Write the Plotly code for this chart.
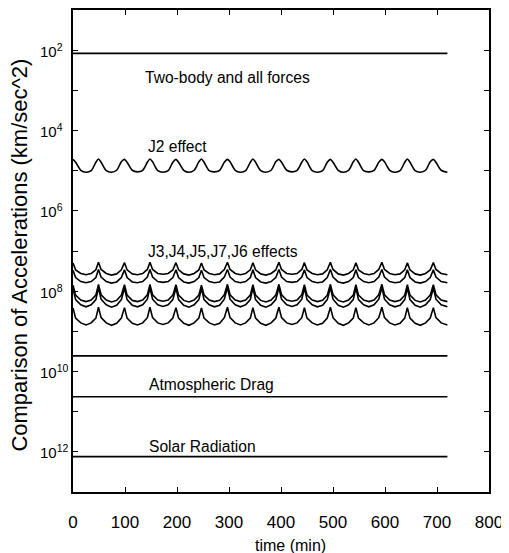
import numpy as np
import plotly.graph_objects as go

# ---------------- data (log10 of acceleration, km/sec^2) ----------------
time_min = [0, 5, 15, 25, 35, 44,
            49, 54, 64, 74, 84, 93,
            99, 104, 114, 124, 134, 143,
            148, 153, 163, 173, 183, 192,
            198, 203, 213, 223, 233, 242,
            247, 252, 262, 272, 282, 291,
            297, 302, 312, 322, 332, 341,
            346, 351, 361, 371, 381, 390,
            396, 401, 411, 421, 431, 440,
            445, 450, 460, 470, 480, 489,
            495, 500, 510, 520, 530, 539,
            544, 549, 559, 569, 579, 588,
            594, 599, 609, 619, 629, 638,
            643, 648, 658, 668, 678, 687,
            693, 698, 708, 720]

j2_log = [-4.72, -4.79, -4.99, -5.04, -5.00, -4.79,
          -4.71, -4.79, -5.00, -5.04, -4.99, -4.78,
          -4.72, -4.79, -4.99, -5.03, -4.99, -4.79,
          -4.71, -4.78, -5.00, -5.04, -5.00, -4.79,
          -4.72, -4.79, -4.99, -5.04, -4.99, -4.78,
          -4.71, -4.79, -5.00, -5.03, -4.99, -4.79,
          -4.72, -4.78, -4.99, -5.04, -5.00, -4.79,
          -4.71, -4.79, -5.00, -5.04, -4.99, -4.78,
          -4.72, -4.79, -4.99, -5.03, -4.99, -4.79,
          -4.71, -4.78, -5.00, -5.04, -5.00, -4.79,
          -4.72, -4.79, -4.99, -5.04, -4.99, -4.78,
          -4.71, -4.79, -5.00, -5.03, -4.99, -4.79,
          -4.72, -4.78, -4.99, -5.04, -5.00, -4.79,
          -4.71, -4.79, -5.00, -5.04, -4.99, -4.78,
          -4.72, -4.79, -4.99, -5.04]

j_a_log = [-7.30, -7.47, -7.56, -7.59, -7.56, -7.47,
           -7.28, -7.46, -7.56, -7.60, -7.57, -7.47,
           -7.29, -7.47, -7.57, -7.59, -7.56, -7.46,
           -7.28, -7.46, -7.56, -7.58, -7.56, -7.47,
           -7.29, -7.47, -7.57, -7.60, -7.56, -7.47,
           -7.30, -7.47, -7.56, -7.59, -7.57, -7.46,
           -7.28, -7.46, -7.56, -7.59, -7.56, -7.47,
           -7.29, -7.47, -7.57, -7.60, -7.56, -7.47,
           -7.28, -7.46, -7.56, -7.58, -7.56, -7.46,
           -7.29, -7.47, -7.56, -7.59, -7.57, -7.47,
           -7.28, -7.46, -7.57, -7.60, -7.56, -7.47,
           -7.29, -7.47, -7.56, -7.59, -7.56, -7.46,
           -7.28, -7.46, -7.56, -7.59, -7.57, -7.47,
           -7.29, -7.47, -7.57, -7.60, -7.56, -7.47,
           -7.29, -7.46, -7.56, -7.59]

j_b_log = [-7.48, -7.66, -7.76, -7.79, -7.76, -7.66,
           -7.46, -7.65, -7.76, -7.80, -7.77, -7.66,
           -7.47, -7.66, -7.77, -7.79, -7.76, -7.65,
           -7.46, -7.65, -7.76, -7.78, -7.76, -7.66,
           -7.47, -7.66, -7.77, -7.80, -7.76, -7.66,
           -7.48, -7.66, -7.76, -7.79, -7.77, -7.65,
           -7.46, -7.65, -7.76, -7.79, -7.76, -7.66,
           -7.47, -7.66, -7.77, -7.80, -7.76, -7.66,
           -7.46, -7.65, -7.76, -7.78, -7.76, -7.65,
           -7.47, -7.66, -7.76, -7.79, -7.77, -7.66,
           -7.46, -7.65, -7.77, -7.80, -7.76, -7.66,
           -7.47, -7.66, -7.76, -7.79, -7.76, -7.65,
           -7.46, -7.65, -7.76, -7.79, -7.77, -7.66,
           -7.47, -7.66, -7.77, -7.80, -7.76, -7.66,
           -7.47, -7.65, -7.76, -7.79]

j_c_log = [-7.85, -8.10, -8.22, -8.26, -8.22, -8.10,
           -7.83, -8.09, -8.22, -8.27, -8.23, -8.10,
           -7.84, -8.10, -8.23, -8.26, -8.22, -8.09,
           -7.83, -8.09, -8.22, -8.25, -8.22, -8.10,
           -7.84, -8.10, -8.23, -8.27, -8.22, -8.10,
           -7.85, -8.10, -8.22, -8.26, -8.23, -8.09,
           -7.83, -8.09, -8.22, -8.26, -8.22, -8.10,
           -7.84, -8.10, -8.23, -8.27, -8.22, -8.10,
           -7.83, -8.09, -8.22, -8.25, -8.22, -8.09,
           -7.84, -8.10, -8.22, -8.26, -8.23, -8.10,
           -7.83, -8.09, -8.23, -8.27, -8.22, -8.10,
           -7.84, -8.10, -8.22, -8.26, -8.22, -8.09,
           -7.83, -8.09, -8.22, -8.26, -8.23, -8.10,
           -7.84, -8.10, -8.23, -8.27, -8.22, -8.10,
           -7.84, -8.09, -8.22, -8.26]

j_d_log = [-7.93, -8.21, -8.34, -8.39, -8.34, -8.21,
           -7.91, -8.20, -8.34, -8.40, -8.35, -8.21,
           -7.92, -8.21, -8.35, -8.39, -8.34, -8.20,
           -7.91, -8.20, -8.34, -8.38, -8.34, -8.21,
           -7.92, -8.21, -8.35, -8.40, -8.34, -8.21,
           -7.93, -8.21, -8.34, -8.39, -8.35, -8.20,
           -7.91, -8.20, -8.34, -8.39, -8.34, -8.21,
           -7.92, -8.21, -8.35, -8.40, -8.34, -8.21,
           -7.91, -8.20, -8.34, -8.38, -8.34, -8.20,
           -7.92, -8.21, -8.34, -8.39, -8.35, -8.21,
           -7.91, -8.20, -8.35, -8.40, -8.34, -8.21,
           -7.92, -8.21, -8.34, -8.39, -8.34, -8.20,
           -7.91, -8.20, -8.34, -8.39, -8.35, -8.21,
           -7.92, -8.21, -8.35, -8.40, -8.34, -8.21,
           -7.92, -8.20, -8.34, -8.39]

j_e_log = [-8.42, -8.67, -8.79, -8.84, -8.79, -8.67,
           -8.40, -8.66, -8.79, -8.85, -8.80, -8.67,
           -8.41, -8.67, -8.80, -8.84, -8.79, -8.66,
           -8.40, -8.66, -8.79, -8.83, -8.79, -8.67,
           -8.41, -8.67, -8.80, -8.85, -8.79, -8.67,
           -8.42, -8.67, -8.79, -8.84, -8.80, -8.66,
           -8.40, -8.66, -8.79, -8.84, -8.79, -8.67,
           -8.41, -8.67, -8.80, -8.85, -8.79, -8.67,
           -8.40, -8.66, -8.79, -8.83, -8.79, -8.66,
           -8.41, -8.67, -8.79, -8.84, -8.80, -8.67,
           -8.40, -8.66, -8.80, -8.85, -8.79, -8.67,
           -8.41, -8.67, -8.79, -8.84, -8.79, -8.66,
           -8.40, -8.66, -8.79, -8.84, -8.80, -8.67,
           -8.41, -8.67, -8.80, -8.85, -8.79, -8.67,
           -8.41, -8.66, -8.79, -8.84]

flat_time = [0, 720]
two_body_log = [-2.08, -2.08]
other_log = [-9.61, -9.61]
drag_log = [-10.63, -10.63]
solar_log = [-12.12, -12.12]

y_major_exp = [-2, -4, -6, -8, -10, -12]
y_major_text = ["10<sup>2</sup>", "10<sup>4</sup>", "10<sup>6</sup>",
                "10<sup>8</sup>", "10<sup>10</sup>", "10<sup>12</sup>"]
y_minor_exp = [-3, -5, -7, -9, -11]
x_ticks = [0, 100, 200, 300, 400, 500, 600, 700, 800]

labels = [("Two-body and all forces", 135, -2.67),
          ("J2 effect", 141, -4.41),
          ("J3,J4,J5,J7,J6 effects", 141, -7.02),
          ("Atmospheric Drag", 143, -10.33),
          ("Solar Radiation", 143, -11.87)]

# ---------------- figure ----------------
FONT = "Liberation Sans, Arial"
fig = go.Figure()

line = dict(color="black", width=1.6)
for ys in [two_body_log, other_log, drag_log, solar_log]:
    fig.add_trace(go.Scatter(x=flat_time, y=10 ** np.array(ys), mode="lines",
                             line=line, showlegend=False, hoverinfo="skip"))

fig.add_trace(go.Scatter(x=time_min, y=10 ** np.array(j2_log), mode="lines",
                         line=dict(color="black", width=1.6, shape="spline", smoothing=0.8),
                         showlegend=False))
for ys in [j_a_log, j_b_log, j_c_log, j_d_log, j_e_log]:
    fig.add_trace(go.Scatter(x=time_min, y=10 ** np.array(ys), mode="lines",
                             line=line, showlegend=False))

for text, x, y in labels:
    fig.add_annotation(text=text, x=x, y=y, xref="x", yref="y", xanchor="left",
                       yanchor="middle", showarrow=False,
                       font=dict(family=FONT, size=15.6, color="black"))

# y tick labels, left-aligned as in the reference (base "10" in a fixed column)
for e, txt in zip(y_major_exp, y_major_text):
    fig.add_annotation(text=txt, x=-0.083, y=e, xref="paper", yref="y",
                       xanchor="left", yanchor="middle", showarrow=False,
                       font=dict(family=FONT, size=15, color="black"))

fig.add_annotation(text="time (min)", x=0.522, y=-0.110, xref="paper", yref="paper",
                   xanchor="center", yanchor="middle", showarrow=False,
                   font=dict(family=FONT, size=16, color="black"))
fig.add_annotation(text="Comparison of Accelerations (km/sec^2)", x=-0.128, y=0.492,
                   xref="paper", yref="paper", textangle=-90, xanchor="center",
                   yanchor="middle", showarrow=False,
                   font=dict(family=FONT, size=22, color="black"))

fig.update_xaxes(range=[0, 800], tickvals=x_ticks, ticks="inside", ticklen=5,
                 showline=True, linecolor="black", linewidth=1.5, mirror="ticks",
                 tickcolor="black", showgrid=False, zeroline=False,
                 tickfont=dict(family=FONT, size=17, color="black"),
                 ticklabelstandoff=14)
fig.update_yaxes(type="log", range=[-13, -1],
                 tickvals=[10.0 ** e for e in y_major_exp], showticklabels=False,
                 ticks="inside", ticklen=5,
                 minor=dict(tickvals=[10.0 ** e for e in y_minor_exp], ticks="inside",
                            ticklen=5, tickcolor="black", showgrid=False),
                 showline=True, linecolor="black", linewidth=1.5, mirror="ticks",
                 tickcolor="black", showgrid=False, zeroline=False)

# page body adds an 8px offset: plot area kept at 72..489 x 10..492 in the window
fig.update_layout(width=501, height=545, autosize=False,
                  margin=dict(l=64.5, r=20, t=2, b=61, autoexpand=False),
                  paper_bgcolor="white", plot_bgcolor="white")

fig.write_html("out.html")
